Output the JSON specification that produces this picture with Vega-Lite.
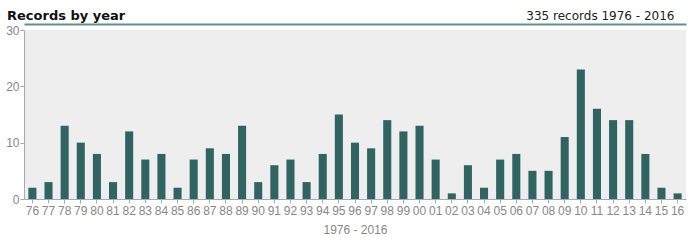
{
  "$schema": "https://vega.github.io/schema/vega-lite/v6.json",
  "autosize": "none",
  "width": 662,
  "height": 169,
  "padding": {"left": 24, "top": 30, "right": 14, "bottom": 42},
  "background": "#ffffff",
  "title": {
    "text": "Records by year",
    "anchor": "start",
    "frame": "group",
    "font": "DejaVu Sans",
    "fontSize": 13,
    "fontWeight": "bold",
    "color": "#111111",
    "dx": -17,
    "dy": 14,
    "offset": 0
  },
  "data": {
    "values": [
      {"year": "76", "records": 2}, {"year": "77", "records": 3}, {"year": "78", "records": 13},
      {"year": "79", "records": 10}, {"year": "80", "records": 8}, {"year": "81", "records": 3},
      {"year": "82", "records": 12}, {"year": "83", "records": 7}, {"year": "84", "records": 8},
      {"year": "85", "records": 2}, {"year": "86", "records": 7}, {"year": "87", "records": 9},
      {"year": "88", "records": 8}, {"year": "89", "records": 13}, {"year": "90", "records": 3},
      {"year": "91", "records": 6}, {"year": "92", "records": 7}, {"year": "93", "records": 3},
      {"year": "94", "records": 8}, {"year": "95", "records": 15}, {"year": "96", "records": 10},
      {"year": "97", "records": 9}, {"year": "98", "records": 14}, {"year": "99", "records": 12},
      {"year": "00", "records": 13}, {"year": "01", "records": 7}, {"year": "02", "records": 1},
      {"year": "03", "records": 6}, {"year": "04", "records": 2}, {"year": "05", "records": 7},
      {"year": "06", "records": 8}, {"year": "07", "records": 5}, {"year": "08", "records": 5},
      {"year": "09", "records": 11}, {"year": "10", "records": 23}, {"year": "11", "records": 16},
      {"year": "12", "records": 14}, {"year": "13", "records": 14}, {"year": "14", "records": 8},
      {"year": "15", "records": 2}, {"year": "16", "records": 1}
    ]
  },
  "config": {
    "view": {"fill": "#eeeeee", "stroke": null},
    "axis": {
      "labelFont": "Liberation Sans",
      "labelFontSize": 12,
      "labelColor": "#888888",
      "titleFont": "Liberation Sans",
      "titleFontSize": 12,
      "titleFontWeight": "normal",
      "titleColor": "#888888",
      "domainColor": "#aaaaaa",
      "tickColor": "#aaaaaa",
      "tickSize": 4,
      "grid": false
    }
  },
  "layer": [
    {
      "mark": {"type": "bar", "color": "#2f6462"},
      "encoding": {
        "x": {
          "field": "year",
          "type": "ordinal",
          "sort": null,
          "scale": {"paddingInner": 0.5, "paddingOuter": 0.27},
          "axis": {"orient": "bottom", "labelAngle": 0, "labelPadding": 2, "title": "1976 - 2016", "titlePadding": 8}
        },
        "y": {
          "field": "records",
          "type": "quantitative",
          "scale": {"domain": [0, 30], "nice": false},
          "axis": {"values": [0, 10, 20, 30], "title": null, "labelPadding": 1}
        }
      }
    },
    {
      "mark": {"type": "bar", "opacity": 0},
      "encoding": {
        "x": {
          "field": "year",
          "type": "ordinal",
          "sort": null,
          "axis": {
            "orient": "top",
            "labels": false,
            "ticks": false,
            "domainColor": "#628f8c",
            "domainWidth": 2,
            "offset": 6,
            "title": "335 records 1976 - 2016",
            "titleFont": "DejaVu Sans",
            "titleFontSize": 12,
            "titleColor": "#222222",
            "titleAnchor": "end",
            "titleAlign": "right",
            "titleBaseline": "alphabetic",
            "titleX": 650,
            "titleY": -5
          }
        },
        "y": {"field": "records", "type": "quantitative"}
      }
    }
  ],
  "resolve": {"axis": {"x": "independent"}}
}
